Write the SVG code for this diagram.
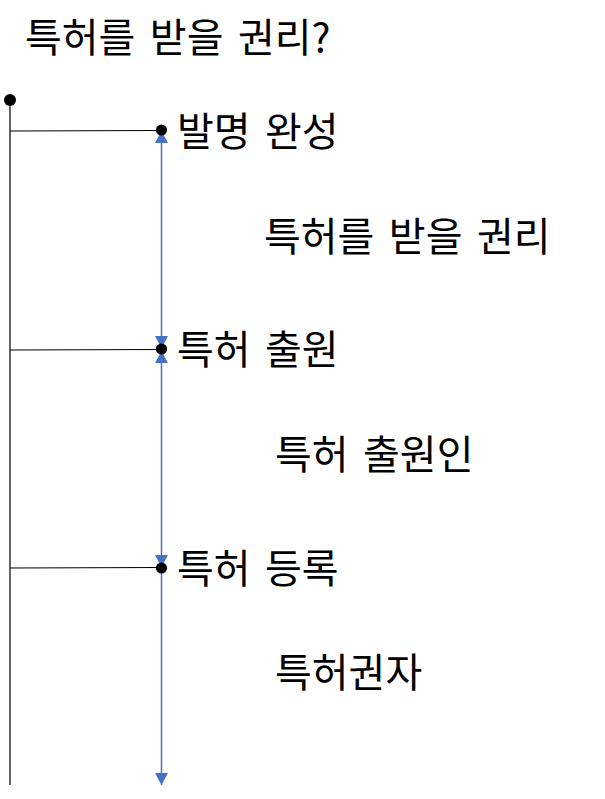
<svg xmlns="http://www.w3.org/2000/svg" width="605" height="799" viewBox="0 0 605 799">
  <style>
    .t { font-family: "Noto Sans CJK KR", "Noto Sans", sans-serif; font-size: 40px; word-spacing: 5.5px; fill: #000; }
    .blk { stroke: #000; stroke-width: 1.2; fill: none; }
    .blue { stroke: #4472C4; stroke-width: 1.5; fill: none; }
    .dot { fill: #000; }
  </style>
  <defs>
    <marker id="arr" markerUnits="userSpaceOnUse" markerWidth="13" markerHeight="13" refX="12" refY="6.5" orient="auto-start-reverse">
      <path d="M0,0 L12,6.5 L0,13 z" fill="#4472C4"/>
    </marker>
  </defs>
  <rect width="605" height="799" fill="#fff"/>

  <g id="title">
    <text class="t" x="25" y="52">특허를 받을 권리?</text>
  </g>

  <g id="connectors">
    <line class="blk" x1="10" y1="100" x2="10" y2="785"/>
    <line class="blk" x1="10" y1="131" x2="161.5" y2="130.5"/>
    <line class="blk" x1="10" y1="350" x2="161.5" y2="349.5"/>
    <line class="blk" x1="10" y1="568" x2="161.5" y2="567.5"/>
    <line class="blue" x1="161.5" y1="131" x2="161.5" y2="348" marker-start="url(#arr)" marker-end="url(#arr)"/>
    <line class="blue" x1="161.5" y1="351" x2="161.5" y2="567" marker-start="url(#arr)" marker-end="url(#arr)"/>
    <line class="blue" x1="161.5" y1="568" x2="161.5" y2="785" marker-end="url(#arr)"/>
  </g>

  <g id="start">
    <circle class="dot" cx="10" cy="100" r="6"/>
  </g>

  <g id="node-invention">
    <circle class="dot" cx="161.5" cy="130" r="5.6"/>
    <text class="t" x="177" y="146">발명 완성</text>
  </g>

  <g id="label-right">
    <text class="t" x="264" y="251">특허를 받을 권리</text>
  </g>

  <g id="node-filing">
    <circle class="dot" cx="161.5" cy="349" r="5.6"/>
    <text class="t" x="177" y="364">특허 출원</text>
  </g>

  <g id="label-applicant">
    <text class="t" x="275" y="469">특허 출원인</text>
  </g>

  <g id="node-registration">
    <circle class="dot" cx="161.5" cy="568" r="5.6"/>
    <text class="t" x="177" y="583">특허 등록</text>
  </g>

  <g id="label-holder">
    <text class="t" x="275" y="687">특허권자</text>
  </g>
</svg>
